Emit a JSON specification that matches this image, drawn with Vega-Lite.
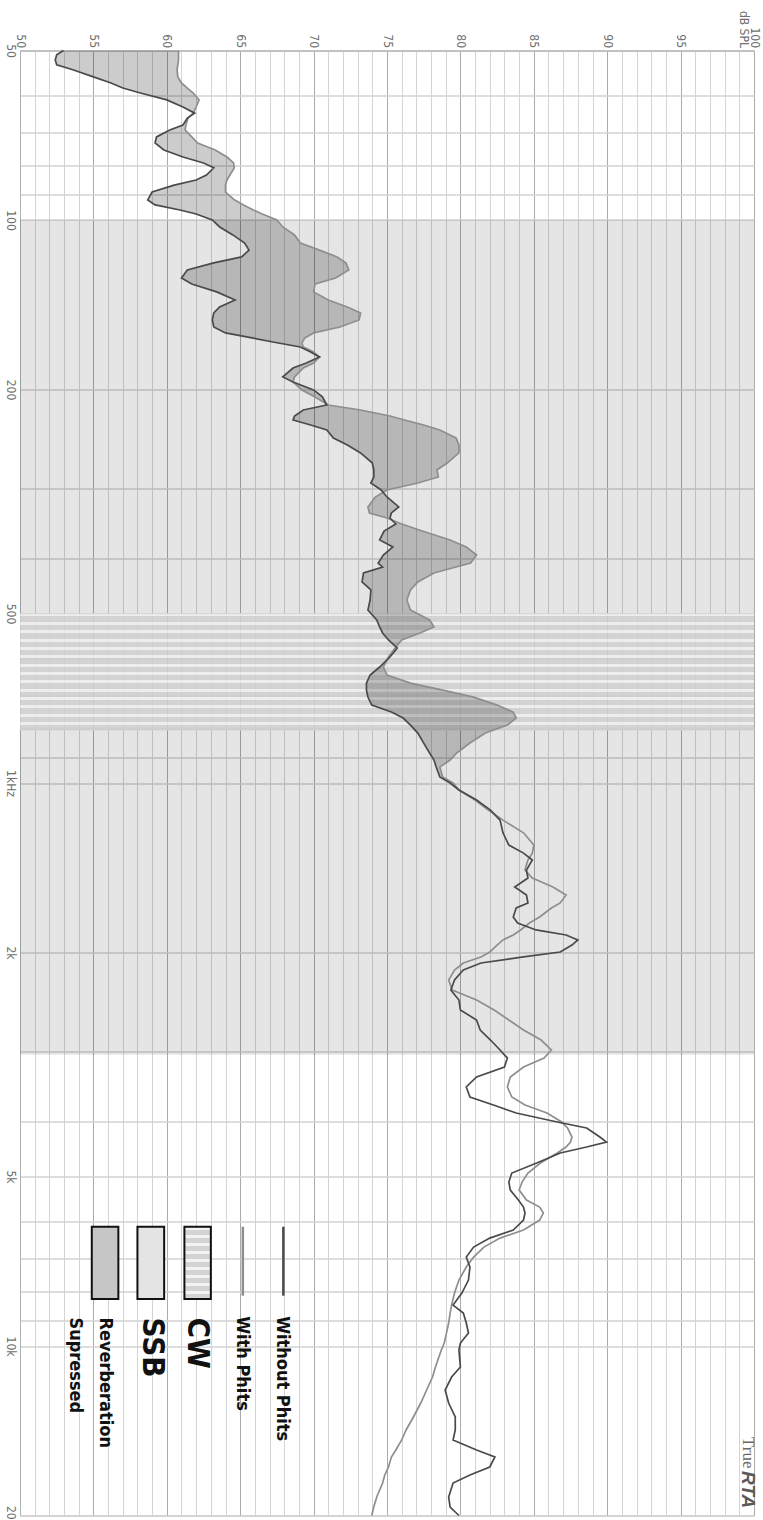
{
  "$schema": "https://vega.github.io/schema/vega-lite/v6.json",
  "width": 734,
  "height": 1465,
  "autosize": "none",
  "padding": {"left": 20, "top": 50.5, "right": 9, "bottom": 4.5},
  "background": "white",
  "datasets": {
    "curve": [
      {"f": 50, "without": 52.96, "with": 60.8},
      {"f": 50.9, "without": 52.5, "with": 60.8},
      {"f": 52.0, "without": 52.4, "with": 60.8},
      {"f": 53.0, "without": 52.5, "with": 60.75},
      {"f": 54.1, "without": 53.6, "with": 60.7},
      {"f": 55.7, "without": 55.0, "with": 60.75},
      {"f": 57.1, "without": 56.2, "with": 61.0},
      {"f": 58.3, "without": 57.0, "with": 61.4},
      {"f": 59.5, "without": 58.2, "with": 61.8},
      {"f": 61.2, "without": 60.0, "with": 62.2},
      {"f": 63.0, "without": 61.1, "with": 62.0},
      {"f": 64.6, "without": 61.9, "with": 61.8},
      {"f": 65.9, "without": 61.4, "with": 61.45},
      {"f": 67.8, "without": 61.1, "with": 61.3},
      {"f": 69.2, "without": 60.2, "with": 61.25},
      {"f": 71.2, "without": 59.3, "with": 61.7},
      {"f": 73.0, "without": 59.2, "with": 62.1},
      {"f": 75.1, "without": 59.8, "with": 63.3},
      {"f": 77.3, "without": 61.1, "with": 64.1},
      {"f": 79.2, "without": 62.5, "with": 64.55},
      {"f": 80.8, "without": 63.2, "with": 64.6},
      {"f": 83.2, "without": 62.7, "with": 64.3},
      {"f": 84.9, "without": 62.0, "with": 64.1},
      {"f": 86.7, "without": 60.5, "with": 64.0},
      {"f": 89.2, "without": 59.0, "with": 64.0},
      {"f": 92.1, "without": 58.7, "with": 64.6},
      {"f": 94.0, "without": 59.2, "with": 65.2},
      {"f": 96.0, "without": 60.9, "with": 65.9},
      {"f": 97.6, "without": 62.0, "with": 66.5},
      {"f": 100, "without": 63.1, "with": 67.5},
      {"f": 102.9, "without": 63.6, "with": 67.9},
      {"f": 106.3, "without": 64.5, "with": 68.7},
      {"f": 109.9, "without": 65.3, "with": 69.1},
      {"f": 113.1, "without": 65.6, "with": 70.4},
      {"f": 116.3, "without": 65.1, "with": 71.6},
      {"f": 119.2, "without": 63.2, "with": 72.2},
      {"f": 122.7, "without": 61.4, "with": 72.4},
      {"f": 126.8, "without": 61.0, "with": 71.5},
      {"f": 129.9, "without": 61.7, "with": 70.1},
      {"f": 134.2, "without": 63.4, "with": 70.0},
      {"f": 138.7, "without": 64.65, "with": 71.0},
      {"f": 142.7, "without": 63.6, "with": 72.3},
      {"f": 146.3, "without": 63.2, "with": 73.2},
      {"f": 150.5, "without": 63.1, "with": 73.1},
      {"f": 154.9, "without": 63.2, "with": 71.8},
      {"f": 158.7, "without": 64.0, "with": 70.0},
      {"f": 162.0, "without": 65.8, "with": 69.4},
      {"f": 165.4, "without": 67.6, "with": 69.2},
      {"f": 168.1, "without": 69.1, "with": 69.3},
      {"f": 171.6, "without": 69.8, "with": 70.0},
      {"f": 175.1, "without": 70.4, "with": 70.4},
      {"f": 179.5, "without": 69.5, "with": 70.0},
      {"f": 183.2, "without": 68.6, "with": 69.3},
      {"f": 190.0, "without": 67.9, "with": 68.7},
      {"f": 194.0, "without": 68.6, "with": 68.6},
      {"f": 200.4, "without": 70.0, "with": 69.2},
      {"f": 206.2, "without": 70.6, "with": 70.1},
      {"f": 213.1, "without": 70.9, "with": 71.0},
      {"f": 217.5, "without": 69.3, "with": 73.2},
      {"f": 222.9, "without": 68.7, "with": 75.2},
      {"f": 226.6, "without": 68.6, "with": 76.2},
      {"f": 231.3, "without": 69.8, "with": 77.5},
      {"f": 236.0, "without": 70.9, "with": 78.6},
      {"f": 243.9, "without": 71.35, "with": 79.7},
      {"f": 251.0, "without": 72.3, "with": 79.9},
      {"f": 259.3, "without": 73.2, "with": 79.9},
      {"f": 270.2, "without": 74.0, "with": 79.1},
      {"f": 278.0, "without": 74.1, "with": 78.4},
      {"f": 286.1, "without": 74.1, "with": 78.5},
      {"f": 293.2, "without": 73.9, "with": 77.1},
      {"f": 301.7, "without": 74.6, "with": 75.0},
      {"f": 310.5, "without": 75.0, "with": 74.2},
      {"f": 323.4, "without": 75.8, "with": 73.7},
      {"f": 331.4, "without": 75.3, "with": 73.8},
      {"f": 338.3, "without": 75.2, "with": 75.0},
      {"f": 346.7, "without": 75.6, "with": 76.0},
      {"f": 356.8, "without": 74.8, "with": 77.4},
      {"f": 370.1, "without": 74.5, "with": 79.3},
      {"f": 380.9, "without": 75.4, "with": 80.4},
      {"f": 393.6, "without": 74.75, "with": 81.1},
      {"f": 406.7, "without": 74.4, "with": 80.7},
      {"f": 413.4, "without": 74.7, "with": 79.7},
      {"f": 423.6, "without": 73.4, "with": 78.2},
      {"f": 439.5, "without": 73.3, "with": 77.1},
      {"f": 454.1, "without": 73.9, "with": 76.6},
      {"f": 473.1, "without": 73.85, "with": 76.35},
      {"f": 492.8, "without": 73.7, "with": 76.6},
      {"f": 513.4, "without": 74.3, "with": 77.9},
      {"f": 528.3, "without": 74.5, "with": 78.2},
      {"f": 541.4, "without": 74.7, "with": 77.25},
      {"f": 557.2, "without": 75.1, "with": 76.0},
      {"f": 575.7, "without": 75.7, "with": 75.55},
      {"f": 597.3, "without": 75.2, "with": 75.1},
      {"f": 622.3, "without": 74.5, "with": 74.75},
      {"f": 643.0, "without": 73.85, "with": 75.0},
      {"f": 664.5, "without": 73.6, "with": 76.6},
      {"f": 683.8, "without": 73.6, "with": 78.8},
      {"f": 703.7, "without": 73.7, "with": 80.9},
      {"f": 727.1, "without": 73.96, "with": 82.5},
      {"f": 748.2, "without": 75.3, "with": 83.6},
      {"f": 766.8, "without": 76.1, "with": 83.8},
      {"f": 789.1, "without": 76.6, "with": 83.2},
      {"f": 815.3, "without": 77.1, "with": 81.7},
      {"f": 849.3, "without": 77.5, "with": 80.65},
      {"f": 884.4, "without": 77.9, "with": 79.75},
      {"f": 910.2, "without": 78.2, "with": 79.3},
      {"f": 936.7, "without": 78.35, "with": 78.6},
      {"f": 975.8, "without": 78.6, "with": 78.8},
      {"f": 1000, "without": 79.3, "with": 79.5},
      {"f": 1029, "without": 79.9, "with": 79.9},
      {"f": 1072, "without": 81.1, "with": 81.0},
      {"f": 1117, "without": 82.05, "with": 81.9},
      {"f": 1164, "without": 82.7, "with": 82.9},
      {"f": 1226, "without": 82.9, "with": 84.3},
      {"f": 1289, "without": 83.3, "with": 85.0},
      {"f": 1332, "without": 84.3, "with": 84.9},
      {"f": 1370, "without": 84.9, "with": 84.6},
      {"f": 1428, "without": 84.5, "with": 84.4},
      {"f": 1475, "without": 84.6, "with": 84.9},
      {"f": 1530, "without": 83.7, "with": 86.3},
      {"f": 1581, "without": 84.5, "with": 87.2},
      {"f": 1633, "without": 84.6, "with": 86.8},
      {"f": 1667, "without": 83.8, "with": 86.2},
      {"f": 1730, "without": 83.6, "with": 85.4},
      {"f": 1773, "without": 83.9, "with": 84.7},
      {"f": 1824, "without": 85.15, "with": 84.1},
      {"f": 1862, "without": 87.2, "with": 83.6},
      {"f": 1900, "without": 88.0, "with": 82.9},
      {"f": 1940, "without": 87.6, "with": 82.5},
      {"f": 1996, "without": 86.8, "with": 82.0},
      {"f": 2037, "without": 84.3, "with": 81.4},
      {"f": 2088, "without": 81.4, "with": 80.2},
      {"f": 2149, "without": 80.2, "with": 79.6},
      {"f": 2238, "without": 79.6, "with": 79.2},
      {"f": 2332, "without": 79.35, "with": 79.45},
      {"f": 2429, "without": 79.9, "with": 81.1},
      {"f": 2531, "without": 80.0, "with": 82.3},
      {"f": 2636, "without": 81.1, "with": 83.3},
      {"f": 2746, "without": 81.35, "with": 84.3},
      {"f": 2861, "without": 82.05, "with": 85.5},
      {"f": 2980, "without": 82.7, "with": 86.2},
      {"f": 3080, "without": 83.2, "with": 85.7},
      {"f": 3195, "without": 83.0, "with": 84.3},
      {"f": 3328, "without": 81.1, "with": 83.4},
      {"f": 3467, "without": 80.4, "with": 83.2},
      {"f": 3612, "without": 80.65, "with": 83.5},
      {"f": 3732, "without": 82.25, "with": 84.4},
      {"f": 3856, "without": 83.8, "with": 85.9},
      {"f": 4001, "without": 86.6, "with": 86.9},
      {"f": 4100, "without": 88.6, "with": 87.3},
      {"f": 4254, "without": 89.5, "with": 87.6},
      {"f": 4342, "without": 89.95, "with": 87.5},
      {"f": 4432, "without": 88.6, "with": 87.2},
      {"f": 4542, "without": 86.8, "with": 86.6},
      {"f": 4732, "without": 85.2, "with": 85.45},
      {"f": 4929, "without": 83.5, "with": 84.6},
      {"f": 5114, "without": 83.3, "with": 84.2},
      {"f": 5284, "without": 83.4, "with": 84.0},
      {"f": 5505, "without": 83.95, "with": 84.5},
      {"f": 5665, "without": 84.3, "with": 85.4},
      {"f": 5805, "without": 84.4, "with": 85.65},
      {"f": 5974, "without": 84.3, "with": 85.4},
      {"f": 6223, "without": 83.6, "with": 84.3},
      {"f": 6431, "without": 82.0, "with": 82.7},
      {"f": 6672, "without": 80.9, "with": 81.6},
      {"f": 6950, "without": 80.4, "with": 80.9},
      {"f": 7240, "without": 80.65, "with": 80.4},
      {"f": 7636, "without": 80.55, "with": 79.9},
      {"f": 8053, "without": 80.1, "with": 79.6},
      {"f": 8458, "without": 79.5, "with": 79.4},
      {"f": 8739, "without": 80.2, "with": 79.3},
      {"f": 9104, "without": 80.4, "with": 79.2},
      {"f": 9484, "without": 80.55, "with": 79.05},
      {"f": 9878, "without": 80.0, "with": 78.9},
      {"f": 10165, "without": 79.9, "with": 78.7},
      {"f": 10897, "without": 80.0, "with": 78.3},
      {"f": 11352, "without": 79.4, "with": 78.1},
      {"f": 11971, "without": 78.96, "with": 77.7},
      {"f": 12625, "without": 79.2, "with": 77.3},
      {"f": 13368, "without": 79.65, "with": 76.8},
      {"f": 14098, "without": 79.65, "with": 76.3},
      {"f": 14686, "without": 79.5, "with": 76.0},
      {"f": 15299, "without": 81.1, "with": 75.6},
      {"f": 15744, "without": 82.35, "with": 75.3},
      {"f": 16402, "without": 82.0, "with": 75.1},
      {"f": 16947, "without": 80.65, "with": 74.85},
      {"f": 17512, "without": 79.5, "with": 74.7},
      {"f": 18544, "without": 79.2, "with": 74.3},
      {"f": 19319, "without": 79.3, "with": 74.1},
      {"f": 20000, "without": 79.9, "with": 73.96}
    ]
  },
  "encoding": {
    "x": {
      "field": "db",
      "type": "quantitative",
      "scale": {"domain": [50, 100], "zero": false, "nice": false},
      "axis": {
        "orient": "top",
        "title": null,
        "values": [50,51,52,53,54,55,56,57,58,59,60,61,62,63,64,65,66,67,68,69,70,71,72,73,74,75,76,77,78,79,80,81,82,83,84,85,86,87,88,89,90,91,92,93,94,95,96,97,98,99,100],
        "labelExpr": "datum.value == 100 ? ['100', 'dB SPL'] : (datum.value % 5 == 0 ? datum.label : '')",
        "grid": true,
        "ticks": false,
        "domainColor": "#b0b0b0",
        "labelAngle": 90,
        "labelAlign": "right",
        "labelBaseline": "middle",
        "labelPadding": 3,
        "labelFlush": false,
        "labelOverlap": false,
        "labelBound": false,
        "labelFont": "Liberation Sans Narrow, DejaVu Sans Condensed, Liberation Sans, sans-serif",
        "labelFontSize": 12,
        "labelLineHeight": 11,
        "labelColor": "#707070",
        "gridColor": {"condition": {"test": "datum.value % 5 == 0", "value": "#ababab"}, "value": "#d4d4d4"},
        "gridWidth": 1
      }
    },
    "y": {
      "field": "f",
      "type": "quantitative",
      "scale": {"type": "log", "domain": [50, 20000], "reverse": true, "nice": false},
      "axis": {
        "orient": "left",
        "title": null,
        "values": [50,60,70,80,90,100,200,300,400,500,600,700,800,900,1000,2000,3000,4000,5000,6000,7000,8000,9000,10000,20000],
        "labelExpr": "datum.value == 50 ? '50' : datum.value == 100 ? '100' : datum.value == 200 ? '200' : datum.value == 500 ? '500' : datum.value == 1000 ? '1kHz' : datum.value == 2000 ? '2k' : datum.value == 5000 ? '5k' : datum.value == 10000 ? '10k' : datum.value == 20000 ? '20k' : ''",
        "grid": true,
        "ticks": false,
        "domainColor": "#b0b0b0",
        "labelAngle": 90,
        "labelAlign": "center",
        "labelBaseline": "top",
        "labelPadding": 5,
        "labelFlush": false,
        "labelOverlap": false,
        "labelBound": false,
        "labelFont": "Liberation Sans Narrow, DejaVu Sans Condensed, Liberation Sans, sans-serif",
        "labelFontSize": 12,
        "labelColor": "#707070",
        "gridColor": "#d2d2d2",
        "gridWidth": 1.5
      }
    }
  },
  "layer": [
    {
      "data": {"values": [{"band": "SSB", "f": 100, "f2": 3040}]},
      "mark": {"type": "rect", "color": "#000000", "opacity": 0.1},
      "encoding": {
        "x": null,
        "y2": {"field": "f2"}
      }
    },
    {
      "data": {"values": [{"band": "CW", "f": 500, "f2": 807}]},
      "mark": {
        "type": "rect",
        "opacity": 0.85,
        "color": {
          "gradient": "linear", "x1": 0, "y1": 0, "x2": 0, "y2": 1,
          "stops": [
            {"offset": 0, "color": "#efefef"}, {"offset": 0.025, "color": "#efefef"}, {"offset": 0.025, "color": "#d0d0d0"}, {"offset": 0.0714, "color": "#d0d0d0"},
            {"offset": 0.0714, "color": "#efefef"}, {"offset": 0.0964, "color": "#efefef"}, {"offset": 0.0964, "color": "#d0d0d0"}, {"offset": 0.1429, "color": "#d0d0d0"},
            {"offset": 0.1429, "color": "#efefef"}, {"offset": 0.1679, "color": "#efefef"}, {"offset": 0.1679, "color": "#d0d0d0"}, {"offset": 0.2143, "color": "#d0d0d0"},
            {"offset": 0.2143, "color": "#efefef"}, {"offset": 0.2393, "color": "#efefef"}, {"offset": 0.2393, "color": "#d0d0d0"}, {"offset": 0.2857, "color": "#d0d0d0"},
            {"offset": 0.2857, "color": "#efefef"}, {"offset": 0.3107, "color": "#efefef"}, {"offset": 0.3107, "color": "#d0d0d0"}, {"offset": 0.3571, "color": "#d0d0d0"},
            {"offset": 0.3571, "color": "#efefef"}, {"offset": 0.3821, "color": "#efefef"}, {"offset": 0.3821, "color": "#d0d0d0"}, {"offset": 0.4286, "color": "#d0d0d0"},
            {"offset": 0.4286, "color": "#efefef"}, {"offset": 0.4536, "color": "#efefef"}, {"offset": 0.4536, "color": "#d0d0d0"}, {"offset": 0.5, "color": "#d0d0d0"},
            {"offset": 0.5, "color": "#efefef"}, {"offset": 0.525, "color": "#efefef"}, {"offset": 0.525, "color": "#d0d0d0"}, {"offset": 0.5714, "color": "#d0d0d0"},
            {"offset": 0.5714, "color": "#efefef"}, {"offset": 0.5964, "color": "#efefef"}, {"offset": 0.5964, "color": "#d0d0d0"}, {"offset": 0.6429, "color": "#d0d0d0"},
            {"offset": 0.6429, "color": "#efefef"}, {"offset": 0.6679, "color": "#efefef"}, {"offset": 0.6679, "color": "#d0d0d0"}, {"offset": 0.7143, "color": "#d0d0d0"},
            {"offset": 0.7143, "color": "#efefef"}, {"offset": 0.7393, "color": "#efefef"}, {"offset": 0.7393, "color": "#d0d0d0"}, {"offset": 0.7857, "color": "#d0d0d0"},
            {"offset": 0.7857, "color": "#efefef"}, {"offset": 0.8107, "color": "#efefef"}, {"offset": 0.8107, "color": "#d0d0d0"}, {"offset": 0.8571, "color": "#d0d0d0"},
            {"offset": 0.8571, "color": "#efefef"}, {"offset": 0.8821, "color": "#efefef"}, {"offset": 0.8821, "color": "#d0d0d0"}, {"offset": 0.9286, "color": "#d0d0d0"},
            {"offset": 0.9286, "color": "#efefef"}, {"offset": 0.9536, "color": "#efefef"}, {"offset": 0.9536, "color": "#d0d0d0"}, {"offset": 1, "color": "#d0d0d0"}
          ]
        }
      },
      "encoding": {
        "x": null,
        "y2": {"field": "f2"}
      }
    },
    {
      "data": {"name": "curve"},
      "transform": [{"filter": "datum.f <= 1000"}],
      "mark": {"type": "area", "orient": "horizontal", "color": "#000000", "opacity": 0.2},
      "encoding": {
        "x": {"field": "without"},
        "x2": {"field": "with"}
      }
    },
    {
      "data": {"name": "curve"},
      "transform": [{"fold": ["with", "without"], "as": ["series", "db"]}],
      "mark": {"type": "line", "strokeWidth": 1.7},
      "encoding": {
        "color": {"field": "series", "type": "nominal", "scale": {"domain": ["without", "with"], "range": ["#4a4a4a", "#8e8e8e"]}, "legend": null},
        "order": {"field": "f", "type": "quantitative"}
      }
    },
    {
      "data": {"values": [
        {"series": "without", "db": 67.94, "f": 6139, "f2": 8140},
        {"series": "with", "db": 65.18, "f": 6139, "f2": 8140}
      ]},
      "mark": {"type": "rule", "strokeWidth": 2.5},
      "encoding": {
        "y2": {"field": "f2"},
        "color": {"field": "series", "type": "nominal", "scale": {"domain": ["without", "with"], "range": ["#4a4a4a", "#8e8e8e"]}, "legend": null}
      }
    },
    {
      "data": {"values": [
        {"item": "Reverberation Supressed", "db": 54.89, "db2": 56.7, "f": 6139, "f2": 8251},
        {"item": "SSB", "db": 58.0, "db2": 59.82, "f": 6139, "f2": 8251}
      ]},
      "mark": {"type": "rect", "stroke": "#111111", "strokeWidth": 2},
      "encoding": {
        "x2": {"field": "db2"},
        "y2": {"field": "f2"},
        "fill": {"field": "item", "type": "nominal", "scale": {"domain": ["Reverberation Supressed", "SSB"], "range": ["#c6c6c6", "#e4e4e4"]}, "legend": null}
      }
    },
    {
      "data": {"values": [{"item": "CW", "db": 61.2, "db2": 63.0, "f": 6139, "f2": 8251}]},
      "mark": {
        "type": "rect", "stroke": "#111111", "strokeWidth": 2,
        "fill": {
          "gradient": "linear", "x1": 0, "y1": 0, "x2": 0, "y2": 1,
          "stops": [
            {"offset": 0, "color": "#f2f2f2"}, {"offset": 0.04, "color": "#f2f2f2"}, {"offset": 0.04, "color": "#d4d4d4"}, {"offset": 0.111, "color": "#d4d4d4"},
            {"offset": 0.111, "color": "#f2f2f2"}, {"offset": 0.151, "color": "#f2f2f2"}, {"offset": 0.151, "color": "#d4d4d4"}, {"offset": 0.222, "color": "#d4d4d4"},
            {"offset": 0.222, "color": "#f2f2f2"}, {"offset": 0.262, "color": "#f2f2f2"}, {"offset": 0.262, "color": "#d4d4d4"}, {"offset": 0.333, "color": "#d4d4d4"},
            {"offset": 0.333, "color": "#f2f2f2"}, {"offset": 0.373, "color": "#f2f2f2"}, {"offset": 0.373, "color": "#d4d4d4"}, {"offset": 0.444, "color": "#d4d4d4"},
            {"offset": 0.444, "color": "#f2f2f2"}, {"offset": 0.484, "color": "#f2f2f2"}, {"offset": 0.484, "color": "#d4d4d4"}, {"offset": 0.556, "color": "#d4d4d4"},
            {"offset": 0.556, "color": "#f2f2f2"}, {"offset": 0.596, "color": "#f2f2f2"}, {"offset": 0.596, "color": "#d4d4d4"}, {"offset": 0.667, "color": "#d4d4d4"},
            {"offset": 0.667, "color": "#f2f2f2"}, {"offset": 0.707, "color": "#f2f2f2"}, {"offset": 0.707, "color": "#d4d4d4"}, {"offset": 0.778, "color": "#d4d4d4"},
            {"offset": 0.778, "color": "#f2f2f2"}, {"offset": 0.818, "color": "#f2f2f2"}, {"offset": 0.818, "color": "#d4d4d4"}, {"offset": 0.889, "color": "#d4d4d4"},
            {"offset": 0.889, "color": "#f2f2f2"}, {"offset": 0.929, "color": "#f2f2f2"}, {"offset": 0.929, "color": "#d4d4d4"}, {"offset": 1, "color": "#d4d4d4"}
          ]
        }
      },
      "encoding": {
        "x2": {"field": "db2"},
        "y2": {"field": "f2"}
      }
    },
    {
      "data": {"values": [
        {"label": "Without Phits", "db": 67.83, "f": 8850},
        {"label": "With Phits", "db": 65.11, "f": 8850},
        {"label": "Reverberation", "db": 55.8, "f": 8900},
        {"label": "Supressed", "db": 53.75, "f": 8900}
      ]},
      "mark": {"type": "text", "angle": 90, "align": "left", "baseline": "middle", "font": "Liberation Sans Narrow, DejaVu Sans Condensed, Liberation Sans, sans-serif", "fontWeight": "bold", "fontSize": 18, "color": "#111111"},
      "encoding": {
        "text": {"field": "label"}
      }
    },
    {
      "data": {"values": [
        {"label": "CW", "db": 62.04, "f": 8900},
        {"label": "SSB", "db": 58.98, "f": 8900}
      ]},
      "mark": {"type": "text", "angle": 90, "align": "left", "baseline": "middle", "font": "Liberation Sans Narrow, DejaVu Sans Condensed, Liberation Sans, sans-serif", "fontWeight": "bold", "fontSize": 31, "color": "#111111"},
      "encoding": {
        "text": {"field": "label"}
      }
    },
    {
      "data": {"values": [{"label": "True", "db": 99.6, "f": 14509}]},
      "mark": {"type": "text", "angle": 90, "align": "left", "baseline": "middle", "font": "Liberation Serif, DejaVu Serif, serif", "fontSize": 17, "color": "#6a6a6a"},
      "encoding": {
        "text": {"field": "label"}
      }
    },
    {
      "data": {"values": [{"label": "RTA", "db": 99.6, "f": 16673}]},
      "mark": {"type": "text", "angle": 90, "align": "left", "baseline": "middle", "font": "Liberation Sans, Arial, sans-serif", "fontWeight": "bold", "fontStyle": "italic", "fontSize": 19, "color": "#5a5a5a"},
      "encoding": {
        "text": {"field": "label"}
      }
    }
  ],
  "config": {
    "view": {"stroke": "#b5b5b5"}
  }
}
